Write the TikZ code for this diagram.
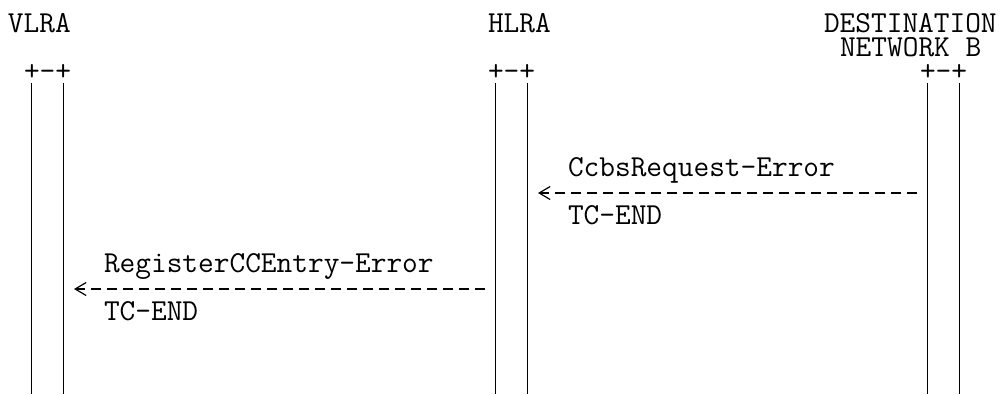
\documentclass[tikz,border=0pt]{standalone}
\usepackage{fontspec}
\usetikzlibrary{arrows.meta}
\begin{document}
\begin{tikzpicture}[x=1pt,y=-1pt,
  txt/.style={anchor=base west,inner sep=0pt,outer sep=0pt,font=\ttfamily\fontsize{30.48pt}{24pt}\selectfont},
  life/.style={line width=1.3pt},
  msg/.style={line width=1.2pt,dash pattern=on 10pt off 6pt,
    -{Straight Barb[length=11pt,width=13pt,line width=1.2pt]}}
]
\useasboundingbox[fill=white] (0,0) rectangle (1000,394);
% headings
\node[txt] (vlra) at (8,32) {VLRA};
\node[txt] (hlra) at (488,32) {HLRA};
\node[txt] (dest1) at (824,32) {DESTINATION};
\node[txt] (dest2) at (840,56) {NETWORK B};
% lifeline heads
\node[txt] (vtop) at (24,80) {+-+};
\node[txt] (htop) at (488,80) {+-+};
\node[txt] (dtop) at (920,80) {+-+};
% lifelines
\coordinate (v1t) at (31.5,83);  \coordinate (v1b) at (31.5,394);
\coordinate (v2t) at (63.5,83);  \coordinate (v2b) at (63.5,394);
\coordinate (h1t) at (495.5,83); \coordinate (h1b) at (495.5,394);
\coordinate (h2t) at (527.5,83); \coordinate (h2b) at (527.5,394);
\coordinate (d1t) at (927.5,83); \coordinate (d1b) at (927.5,394);
\coordinate (d2t) at (959.5,83); \coordinate (d2b) at (959.5,394);
\foreach \a in {v1,v2,h1,h2,d1,d2} {\draw[life] (\a t) -- (\a b);}
% message 1
\node[txt] (m1) at (568,176) {CcbsRequest-Error};
\coordinate (a1s) at (917,193);
\coordinate (a1e) at (538,193);
\draw[msg] (a1s) -- (a1e);
\node[txt] (m1b) at (568,224) {TC-END};
% message 2
\node[txt] (m2) at (104,272) {RegisterCCEntry-Error};
\coordinate (a2s) at (485,289);
\coordinate (a2e) at (74,289);
\draw[msg] (a2s) -- (a2e);
\node[txt] (m2b) at (104,320) {TC-END};
\end{tikzpicture}
\end{document}
